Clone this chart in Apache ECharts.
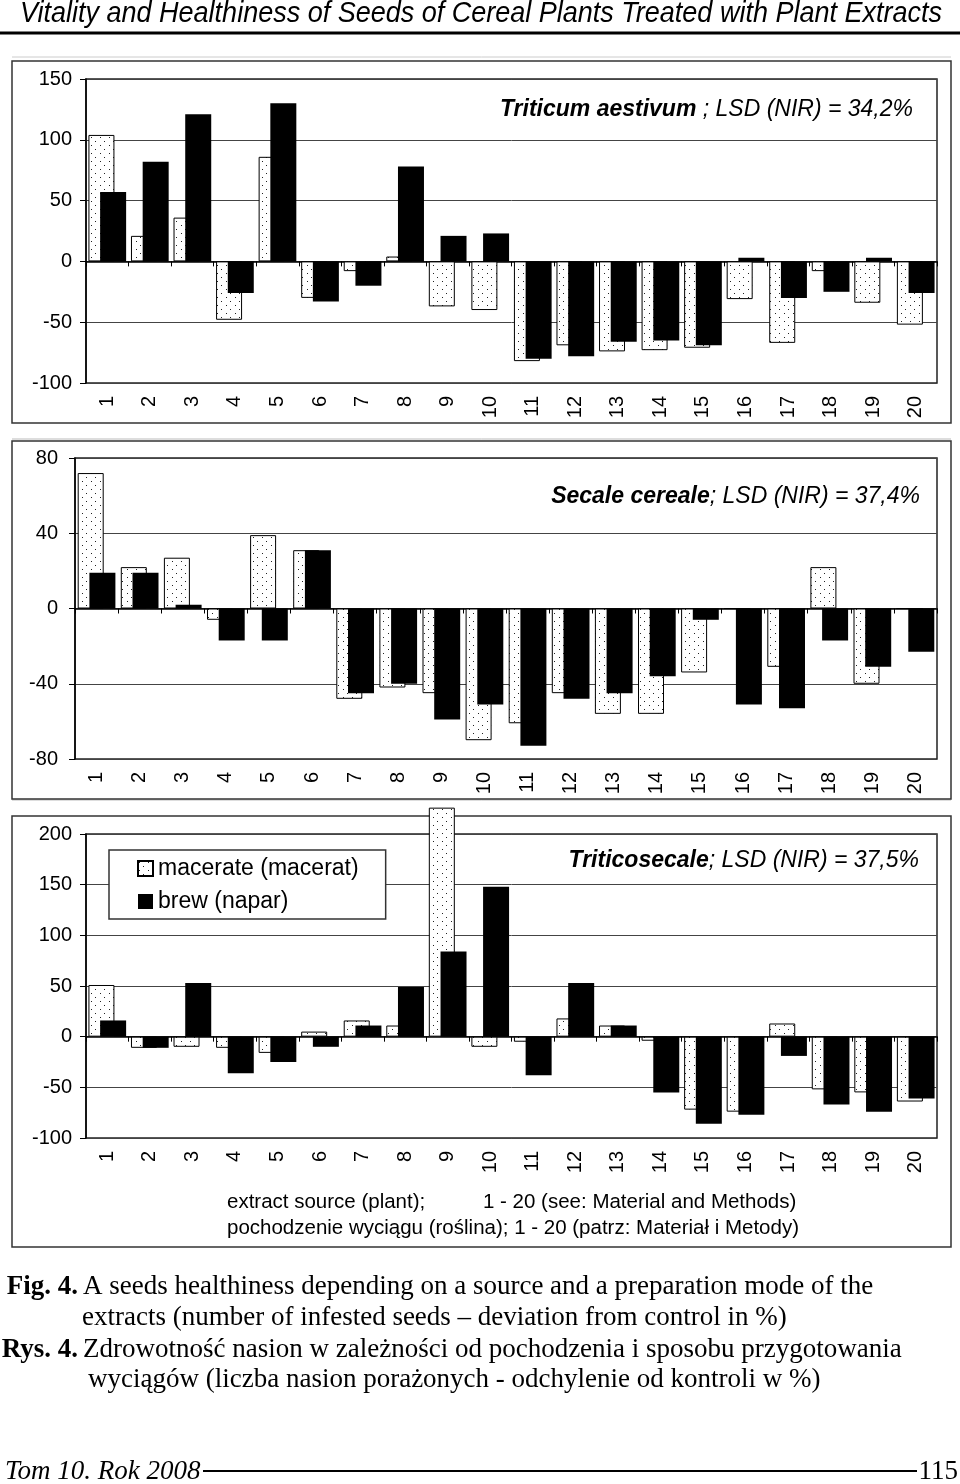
<!DOCTYPE html>
<html><head><meta charset="utf-8">
<script src="https://cdn.jsdelivr.net/npm/echarts@6/dist/echarts.min.js"></script>
<style>html,body{margin:0;padding:0;background:#fff}#c{width:960px;height:1484px}</style>
</head><body><div id="c"></div>
<script>
const categories = ['1','2','3','4','5','6','7','8','9','10','11','12','13','14','15','16','17','18','19','20'];
const triticumMacerate = [104,21,36,-48,86,-30,-8,4,-37,-40,-82,-69,-74,-73,-71,-31,-67,-8,-34,-52];
const triticumBrew = [57,82,121,-26,130,-33,-20,78,21,23,-80,-78,-66,-65,-69,3,-30,-25,3,-26];
const secaleMacerate = [72,22,27,-6,39,31,-48,-42,-45,-70,-61,-45,-56,-56,-34,0,-31,22,-40,0];
const secaleBrew = [19,19,2,-17,-17,31,-45,-40,-59,-51,-73,-48,-45,-36,-6,-51,-53,-17,-31,-23];
const triticosecaleMacerate = [51,-11,-10,-11,-16,5,16,11,226,-10,-5,18,11,-4,-72,-74,13,-52,-55,-64];
const triticosecaleBrew = [16,-11,53,-36,-25,-10,11,49,84,148,-38,53,11,-55,-86,-77,-19,-67,-74,-61];
const seriesNames = ['macerate (macerat)','brew (napar)'];
const panelTitles = [['Triticum aestivum',' ; LSD (NIR) = 34,2%'],['Secale cereale','; LSD (NIR) = 37,4%'],['Triticosecale','; LSD (NIR) = 37,5%']];
const yRanges = [[-100,150,50],[-80,80,40],[-100,200,50]];

const SANS = '"Liberation Sans", Arial, sans-serif';
const SERIF = '"Liberation Serif", "Times New Roman", serif';

function dotPattern(){
  const c = document.createElement('canvas'); c.width = 9; c.height = 8;
  const g = c.getContext('2d');
  g.fillStyle = '#fff'; g.fillRect(0,0,9,8);
  g.fillStyle = '#222'; g.fillRect(1,1,1,1); g.fillRect(5,5,1,1);
  return c;
}
const pattern = {image: dotPattern(), repeat: 'repeat'};

const grids = [
  {left:86, right:23, top:79, height:304},
  {left:75, right:23, top:458, height:301},
  {left:86, right:23, top:834, height:304}
];
const labelMargins = [14,17,14];
const data = [[triticumMacerate,triticumBrew],[secaleMacerate,secaleBrew],[triticosecaleMacerate,triticosecaleBrew]];

const xAxis = [], yAxis = [], series = [];
grids.forEach((g,i)=>{
  g.show = true; g.borderColor = '#222'; g.borderWidth = 1.5;
  xAxis.push({type:'category', gridIndex:i, data:categories, position:'bottom',
    axisLine:{onZero:false, show:false}, axisTick:{show:false}, splitLine:{show:false},
    axisLabel:{rotate:90, margin:13, fontSize:20, color:'#000', fontFamily:SANS}});
  xAxis.push({type:'category', gridIndex:i, data:categories, position:'bottom',
    axisLine:{onZero:true, lineStyle:{color:'#000', width:1.5}},
    axisTick:{show:true, length:5, lineStyle:{color:'#000', width:1}},
    axisLabel:{show:false}, splitLine:{show:false}});
  yAxis.push({type:'value', gridIndex:i, min:yRanges[i][0], max:yRanges[i][1], interval:yRanges[i][2],
    axisLine:{show:true, lineStyle:{color:'#000', width:1.5}},
    axisTick:{show:true, length:6, lineStyle:{color:'#000'}},
    axisLabel:{fontSize:20, color:'#000', margin:labelMargins[i], fontFamily:SANS},
    splitLine:{show:true, lineStyle:{color:'#444', width:1}}});
  series.push({type:'bar', name:seriesNames[0], xAxisIndex:2*i, yAxisIndex:i, data:data[i][0],
    barWidth:26, barGap:'-55%', clip:false,
    itemStyle:{color:pattern, borderColor:'#000', borderWidth:1}});
  series.push({type:'bar', name:seriesNames[1], xAxisIndex:2*i, yAxisIndex:i, data:data[i][1],
    barWidth:26, barGap:'-55%',
    itemStyle:{color:'#000', borderColor:'#000', borderWidth:0}});
});

const titleY = [110, 497, 861];
const titleX = [913, 920, 919];
const graphic = [
  {type:'text', x:20, y:14, scaleX:0.9, style:{text:'Vitality and Healthiness of Seeds of Cereal Plants Treated with Plant Extracts',
    font:'italic 30px "Liberation Sans", sans-serif', fill:'#000', textAlign:'left', textVerticalAlign:'middle'}},
  {type:'line', shape:{x1:0,y1:33,x2:960,y2:33}, style:{stroke:'#000', lineWidth:3}},
  {type:'line', shape:{x1:12,y1:57,x2:951,y2:57}, style:{stroke:'#ccc', lineWidth:1}},
  {type:'line', shape:{x1:12,y1:439,x2:951,y2:439}, style:{stroke:'#bbb', lineWidth:1}},
  {type:'line', shape:{x1:12,y1:800,x2:951,y2:800}, style:{stroke:'#bbb', lineWidth:1}},
  {type:'rect', shape:{x:12,y:61,width:939,height:362}, style:{fill:'none', stroke:'#333', lineWidth:1.5}},
  {type:'rect', shape:{x:12,y:441,width:939,height:358}, style:{fill:'none', stroke:'#333', lineWidth:1.5}},
  {type:'rect', shape:{x:12,y:816,width:939,height:431}, style:{fill:'none', stroke:'#333', lineWidth:1.5}},
  {type:'text', x:227, y:1202, style:{text:'extract source (plant);', font:'20.5px '+SANS, fill:'#000', textVerticalAlign:'middle'}},
  {type:'text', x:483, y:1202, style:{text:'1 - 20 (see: Material and Methods)', font:'20.5px '+SANS, fill:'#000', textVerticalAlign:'middle'}},
  {type:'text', x:227, y:1228, style:{text:'pochodzenie wyciągu (roślina); 1 - 20 (patrz: Materiał i Metody)', font:'20.5px '+SANS, fill:'#000', textVerticalAlign:'middle'}},
  {type:'text', x:78, y:1287, style:{text:'Fig. 4.', font:'bold 27px '+SERIF, fill:'#000', textAlign:'right', textVerticalAlign:'middle'}},
  {type:'text', x:83, y:1287, style:{text:'A seeds healthiness depending on a source and a preparation mode of the', font:'27px '+SERIF, fill:'#000', textVerticalAlign:'middle'}},
  {type:'text', x:82, y:1318, style:{text:'extracts (number of infested seeds – deviation from control in %)', font:'27px '+SERIF, fill:'#000', textVerticalAlign:'middle'}},
  {type:'text', x:78, y:1350, style:{text:'Rys. 4.', font:'bold 27px '+SERIF, fill:'#000', textAlign:'right', textVerticalAlign:'middle'}},
  {type:'text', x:83, y:1350, style:{text:'Zdrowotność nasion w zależności od pochodzenia i sposobu przygotowania', font:'27px '+SERIF, fill:'#000', textVerticalAlign:'middle'}},
  {type:'text', x:88, y:1380, style:{text:'wyciągów (liczba nasion porażonych - odchylenie od kontroli w %)', font:'27px '+SERIF, fill:'#000', textVerticalAlign:'middle'}},
  {type:'text', x:5, y:1472, style:{text:'Tom 10. Rok 2008', font:'italic 27px '+SERIF, fill:'#000', textVerticalAlign:'middle'}},
  {type:'line', shape:{x1:203,y1:1471,x2:917,y2:1471}, style:{stroke:'#000', lineWidth:2}},
  {type:'text', x:958, y:1472, style:{text:'115', font:'27px '+SERIF, fill:'#000', textAlign:'right', textVerticalAlign:'middle'}}
];
panelTitles.forEach((t,i)=>{
  graphic.push({type:'text', x:titleX[i], y:titleY[i], style:{
    text:'{b|'+t[0]+'}{n|'+t[1]+'}', textAlign:'right', textVerticalAlign:'middle',
    rich:{b:{font:'italic bold 23px '+SANS, fill:'#000'}, n:{font:'italic 23px '+SANS, fill:'#000'}}}});
});

const chart = echarts.init(document.getElementById('c'), null, {renderer:'canvas'});
chart.setOption({
  animation:false,
  backgroundColor:'#fff',
  grid:grids, xAxis, yAxis, series,
  legend:{left:109, top:850, orient:'vertical', data:seriesNames, icon:'rect',
    itemWidth:15, itemHeight:15, itemGap:10, padding:[7,27,6,28],
    borderColor:'#333', borderWidth:1.5, backgroundColor:'#fff',
    textStyle:{fontSize:23, color:'#000', fontFamily:SANS}},
  graphic
});
</script></body></html>
